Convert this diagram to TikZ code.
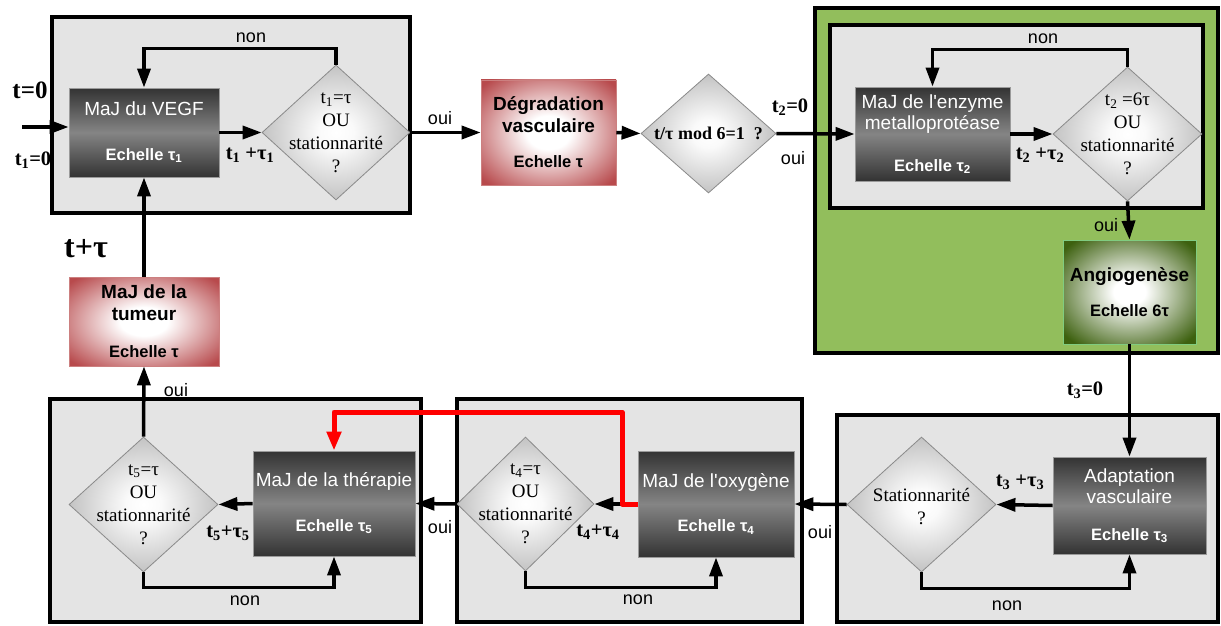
\documentclass[tikz,border=0pt]{standalone}
\usepackage{fontspec}
\setmainfont{Liberation Sans}[Ligatures=TeXOff]
\newfontfamily\seriffont{Liberation Serif}[Ligatures=TeXOff]
\usetikzlibrary{shapes.geometric,arrows.meta}
\definecolor{panelgray}{HTML}{E4E4E4}
\definecolor{greenpanel}{HTML}{92BE5C}
\definecolor{procedge}{HTML}{9A9A9A}
\definecolor{decedge}{HTML}{8A8A8A}
\pgfdeclareradialshading{redglow}{\pgfpoint{0bp}{0bp}}{rgb(0bp)=(1,1,1);rgb(8bp)=(1,1,1);rgb(33bp)=(0.72,0.29,0.30);rgb(50bp)=(0.72,0.29,0.30)}
\pgfdeclareradialshading{greenglow}{\pgfpoint{0bp}{0bp}}{rgb(0bp)=(1,1,1);rgb(6bp)=(1,1,1);rgb(32bp)=(0.24,0.38,0.06);rgb(50bp)=(0.24,0.38,0.06)}
\pgfdeclareradialshading{decglow}{\pgfpoint{0bp}{0bp}}{rgb(0bp)=(1,1,1);rgb(6bp)=(0.98,0.98,0.98);rgb(36bp)=(0.64,0.64,0.64);rgb(50bp)=(0.62,0.62,0.62)}
\tikzset{
  panel/.style={draw=black, line width=4pt, fill=panelgray, inner sep=0pt},
  proc/.style={draw=procedge, line width=0.8pt, inner sep=0pt, align=center, text=white,
    top color=black!80, bottom color=black!80, middle color=black!48,
    font=\fontsize{19}{21.5}\selectfont},
  glowbox/.style={draw=#1!60!black!50, line width=0.6pt, inner sep=0pt, align=center,
    font=\fontsize{19}{21.5}\selectfont\bfseries},
  dec/.style={diamond, draw=decedge, line width=0.8pt, inner sep=0pt, shading=decglow},
  dectext/.style={align=center, font=\seriffont\fontsize{19}{23}\selectfont, inner sep=0pt},
  arr/.style={line width=3.5pt, -{Triangle[length=19pt,width=13pt]}},
  redarr/.style={line width=5pt, red, line join=round, -{Triangle[length=19pt,width=14pt]}},
  yn/.style={font=\fontsize{18}{20}\selectfont, inner sep=0pt},
  tlab/.style={font=\seriffont\bfseries\fontsize{20.5}{22}\selectfont, inner sep=0pt},
}
\newcommand{\echelle}[1]{{\fontsize{16.5}{19}\selectfont\bfseries Echelle #1}}
\begin{document}
\begin{tikzpicture}[x=1pt,y=-1pt]
\useasboundingbox (0,0) rectangle (1221,626);
% panels
\node[panel, minimum width=358, minimum height=196] (p1) at (231,115) {};
\node[panel, fill=greenpanel, minimum width=403, minimum height=345] (pg) at (1016.5,180.5) {};
\node[panel, minimum width=373, minimum height=183] (p2) at (1016.5,116.5) {};
\node[panel, minimum width=381, minimum height=207] (p3) at (1027.5,518.5) {};
\node[panel, minimum width=345, minimum height=223] (p4) at (629.5,510.5) {};
\node[panel, minimum width=371, minimum height=223] (p5) at (235.5,510.5) {};
% process boxes
\node[proc, minimum width=150, minimum height=89] (vegf) at (144,132.5)
  {MaJ du VEGF\\[23pt]\echelle{τ\textsubscript{1}}};
\node[proc, minimum width=155, minimum height=94] (enz) at (932.5,134)
  {MaJ de l'enzyme\\metalloprotéase\\[20pt]\echelle{τ\textsubscript{2}}};
\node[proc, minimum width=153, minimum height=97] (adapt) at (1129.5,505.5)
  {Adaptation\\vasculaire\\[15pt]\echelle{τ\textsubscript{3}}};
\node[proc, minimum width=156, minimum height=106] (oxy) at (716,504)
  {MaJ de l'oxygène\\[23pt]\echelle{τ\textsubscript{4}}};
\node[proc, minimum width=162, minimum height=105] (thera) at (334,503.5)
  {MaJ de la thérapie\\[23pt]\echelle{τ\textsubscript{5}}};
% glowing boxes
\node[glowbox=red, shading=redglow, minimum width=135, minimum height=105] (degr) at (548.5,132.5)
  {Dégradation\\vasculaire\\[14pt]\echelle{τ}};
\node[glowbox=red, shading=redglow, minimum width=150, minimum height=89] (tum) at (144,321.5)
  {MaJ de la\\tumeur\\[16pt]\echelle{τ}};
\node[glowbox=green, shading=greenglow, minimum width=133, minimum height=104] (angio) at (1129.5,292)
  {Angiogenèse\\[13pt]\echelle{6τ}};
% decisions
\node[dec, minimum width=148, minimum height=135,
  label={[dectext]center:t\textsubscript{1}=τ\\OU\\stationnarité\\?}] (d1) at (336,132.5) {};
\node[dec, minimum width=135, minimum height=119,
  label={[inner sep=0pt, font=\seriffont\bfseries\fontsize{18}{20}\selectfont]center:t/τ mod 6=1\ \ ?}] (d2) at (708.5,133.5) {};
\node[dec, minimum width=149, minimum height=134,
  label={[dectext]center:t\textsubscript{2} =6τ\\OU\\stationnarité\\?}] (d3) at (1127.5,134) {};
\node[dec, minimum width=149, minimum height=135,
  label={[dectext, yshift=-2pt]center:Stationnarité\\?}] (d4) at (921.5,504.5) {};
\node[dec, minimum width=137, minimum height=134,
  label={[dectext]center:t\textsubscript{4}=τ\\OU\\stationnarité\\?}] (d5) at (525.5,504) {};
\node[dec, minimum width=149, minimum height=135,
  label={[dectext]center:t\textsubscript{5}=τ\\OU\\stationnarité\\?}] (d6) at (143.5,504.5) {};
% main flow
\coordinate (start) at (22,127);
\draw[arr] (start) -- (start -| vegf.west);
\draw[arr] (vegf.east) -- (d1.west);
\draw[arr] (d1.east) -- (degr.west);
\draw[arr] (degr.east) -- (d2.west);
\draw[arr] (d2.east) -- (enz.west);
\draw[arr] (enz.east) -- (d3.west);
\draw[arr] (d3.south) -- (angio.north);
\draw[arr] (angio.south) -- (adapt.north);
\draw[arr] (adapt.west) -- (d4.east);
\draw[arr] (d4.west) -- (oxy.east);
\draw[arr] (oxy.west) -- (d5.east);
\draw[arr] (d5.west) -- (thera.east);
\draw[arr] (thera.west) -- (d6.east);
\draw[arr] (d6.north) -- (tum.south);
\draw[arr] (tum.north) -- (vegf.south);
% loops
\draw[arr] (d1.north) -- ++(0,-16) -| (vegf.north);
\draw[arr] (d3.north) -- ++(0,-17) -| (enz.north);
\draw[arr] (d4.south) -- ++(0,16) -| (adapt.south);
\draw[arr] (d5.south) -- ++(0,16) -| (oxy.south);
\draw[arr] (d6.south) -- ++(0,15) -| (thera.south);
% red link
\coordinate (rc) at (622,412);
\draw[redarr] (oxy.west) -| (rc) -| (thera.north);
% labels
\node[yn] (n1) at (251,38) {non};
\node[yn] (n2) at (1043,39) {non};
\node[yn] (n3) at (1007,606) {non};
\node[yn] (n4) at (638,600) {non};
\node[yn] (n5) at (245,601) {non};
\node[yn] (o1) at (440,118) {oui};
\node[yn] (o2) at (793,158) {oui};
\node[yn] (o3) at (1106,225) {oui};
\node[yn] (o4) at (820,532) {oui};
\node[yn] (o5) at (440,527) {oui};
\node[yn] (o6) at (176,390) {oui};
\node[tlab] (l1) at (250,155) {t\textsubscript{1} +τ\textsubscript{1}};
\node[tlab] (l2) at (1040,155) {t\textsubscript{2} +τ\textsubscript{2}};
\node[tlab] (l3) at (1020,482) {t\textsubscript{3} +τ\textsubscript{3}};
\node[tlab] (l4) at (598,532) {t\textsubscript{4}+τ\textsubscript{4}};
\node[tlab] (l5) at (228,533) {t\textsubscript{5}+τ\textsubscript{5}};
\node[tlab, font=\seriffont\bfseries\fontsize{25}{27}\selectfont] (t0) at (30,90) {t=0};
\node[tlab] (t10) at (33,160) {t\textsubscript{1}=0};
\node[tlab] (t20) at (790,107) {t\textsubscript{2}=0};
\node[tlab] (t30) at (1085,390) {t\textsubscript{3}=0};
\node[tlab, font=\seriffont\bfseries\fontsize{32}{34}\selectfont] (ttau) at (86,249) {t+τ};
\end{tikzpicture}
\end{document}
